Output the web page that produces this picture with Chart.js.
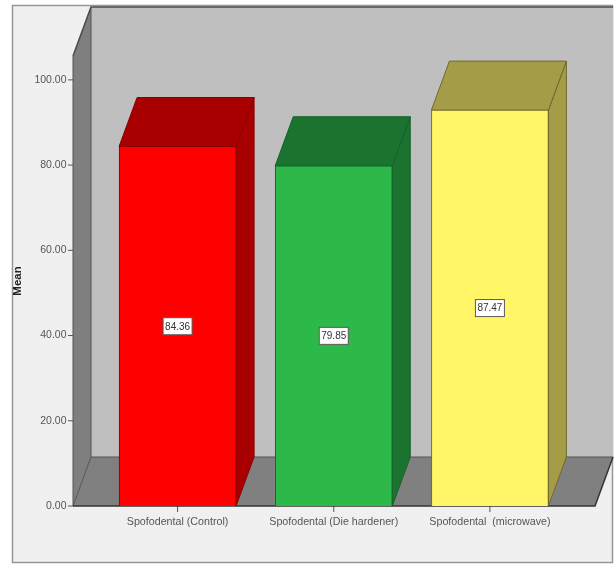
<!DOCTYPE html>
<html>
<head>
<meta charset="utf-8">
<style>
  html, body { margin: 0; padding: 0; background: #fff; }
  canvas { display: block; }
</style>
<script src="https://cdn.jsdelivr.net/npm/chart.js@4"></script>
</head>
<body>
<canvas id="chart" width="614" height="565"></canvas>
<script>
const categories = ["Spofodental (Control)", "Spofodental (Die hardener)", "Spofodental  (microwave)"];
const means = [84.36, 79.85, 92.9];
const printedLabels = ["84.36", "79.85", "87.47"];
const frontColors = ["#ff0000", "#2db84a", "#fff566"];
const shadeColors = ["#a80000", "#1a7430", "#a59c48"];
const edgeColors = ["#8a0000", "#14602a", "#6f6a30"];

// depth of the fake 3d box
const depthX = 18;
const depthY = -49;

function poly(ctx, pts, fill, stroke) {
  ctx.beginPath();
  pts.forEach((p, i) => (i ? ctx.lineTo(p[0], p[1]) : ctx.moveTo(p[0], p[1])));
  ctx.closePath();
  ctx.fillStyle = fill;
  ctx.fill();
  if (stroke) {
    ctx.strokeStyle = stroke;
    ctx.lineWidth = 1;
    ctx.stroke();
  }
}

const boxPlugin = {
  id: "box3d",
  // runs before the scales paint, otherwise the panel hides the tick labels
  beforeDraw(chart) {
    const ctx = chart.ctx;
    const y = chart.scales.y;
    const x = chart.scales.x;
    const bottom = y.getPixelForValue(0);
    const top = chart.chartArea.top;
    const left = 73;
    const right = 595;

    ctx.save();
    // panel
    ctx.fillStyle = "#f0f0f0";
    ctx.fillRect(12.5, 5.5, 600, 557);
    ctx.strokeStyle = "#969696";
    ctx.lineWidth = 1.5;
    ctx.strokeRect(12.5, 5.5, 600, 557);

    // back wall, side wall, floor
    poly(ctx, [[left + depthX, top + depthY], [613, top + depthY], [613, bottom + depthY], [left + depthX, bottom + depthY]], "#bfbfbf");
    poly(ctx, [[left, top], [left + depthX, top + depthY], [left + depthX, bottom + depthY], [left, bottom]], "#7f7f7f");
    poly(ctx, [[left, bottom], [left + depthX, bottom + depthY], [613, bottom + depthY], [right, bottom]], "#808080");

    ctx.strokeStyle = "#4a4a4a";
    ctx.lineWidth = 1.5;
    ctx.beginPath();
    ctx.moveTo(left, top);
    ctx.lineTo(left + depthX, top + depthY);
    ctx.lineTo(613, top + depthY);
    ctx.stroke();
    ctx.lineWidth = 1;
    ctx.strokeStyle = "#555";
    ctx.beginPath();
    ctx.moveTo(left, top);
    ctx.lineTo(left, bottom);
    ctx.moveTo(left + depthX, top + depthY);
    ctx.lineTo(left + depthX, bottom + depthY);
    ctx.lineTo(613, bottom + depthY);
    ctx.moveTo(left + depthX, bottom + depthY);
    ctx.lineTo(left, bottom);
    ctx.stroke();

    // tick marks sit on the front of the side wall, not on the chart area edge
    ctx.strokeStyle = "#555";
    ctx.beginPath();
    y.ticks.forEach((t) => {
      const py = y.getPixelForValue(t.value);
      ctx.moveTo(left - 5, py);
      ctx.lineTo(left, py);
    });
    categories.forEach((c, i) => {
      const px = x.getPixelForValue(i);
      ctx.moveTo(px, bottom);
      ctx.lineTo(px, bottom + 6);
    });
    ctx.stroke();

    // bar tops and right sides
    chart.getDatasetMeta(0).data.forEach((bar, i) => {
      const l = bar.x - bar.width / 2;
      const r = bar.x + bar.width / 2;
      poly(ctx, [[r, bar.base], [r + depthX, bar.base + depthY], [r + depthX, bar.y + depthY], [r, bar.y]], shadeColors[i], edgeColors[i]);
      poly(ctx, [[l, bar.y], [l + depthX, bar.y + depthY], [r + depthX, bar.y + depthY], [r, bar.y]], shadeColors[i], edgeColors[i]);
    });

    // front line of the floor
    ctx.strokeStyle = "#333";
    ctx.lineWidth = 1.5;
    ctx.beginPath();
    ctx.moveTo(left, bottom);
    ctx.lineTo(right, bottom);
    ctx.lineTo(613, bottom + depthY);
    ctx.stroke();
    ctx.restore();
  },
  afterDatasetsDraw(chart) {
    const ctx = chart.ctx;
    ctx.save();
    ctx.font = "10px 'Liberation Sans'";
    ctx.textAlign = "center";
    ctx.textBaseline = "middle";
    chart.getDatasetMeta(0).data.forEach((bar, i) => {
      const cy = (bar.y + bar.base) / 2;
      ctx.fillStyle = "#fff";
      ctx.fillRect(bar.x - 14.5, cy - 8.5, 29, 17);
      ctx.strokeStyle = "#5a5a5a";
      ctx.lineWidth = 1;
      ctx.strokeRect(bar.x - 14.5, cy - 8.5, 29, 17);
      ctx.fillStyle = "#333";
      ctx.fillText(printedLabels[i], bar.x, cy + 0.5);
    });
    ctx.restore();
  },
};

new Chart(document.getElementById("chart"), {
  type: "bar",
  data: {
    labels: categories,
    datasets: [
      {
        data: means,
        backgroundColor: frontColors,
        borderColor: edgeColors,
        borderWidth: 1,
        barThickness: 117,
      },
    ],
  },
  options: {
    responsive: false,
    animation: false,
    devicePixelRatio: 1,
    layout: { padding: { top: 56, right: 46, left: 0, bottom: 0 } },
    plugins: { legend: { display: false }, tooltip: { enabled: false } },
    scales: {
      x: {
        offset: true,
        grid: { display: false, drawTicks: false },
        border: { display: false },
        ticks: {
          padding: 10,
          maxRotation: 0,
          autoSkip: false,
          color: "#555",
          font: { family: "'Liberation Sans'", size: 10.7 },
        },
        afterFit(scale) {
          scale.height = 59;
        },
      },
      y: {
        min: 0,
        max: 105.6,
        grid: { display: false, drawTicks: false },
        border: { display: false },
        title: {
          display: true,
          text: "Mean",
          color: "#222",
          padding: { top: 11, bottom: 0 },
          font: { family: "'Liberation Sans'", size: 11.5, weight: "bold" },
        },
        ticks: {
          stepSize: 20,
          includeBounds: false,
          padding: 33,
          color: "#555",
          font: { family: "'Liberation Sans'", size: 10.5 },
          callback: (v) => v.toFixed(2),
        },
        afterFit(scale) {
          scale.width = 99.5;
        },
      },
    },
  },
  plugins: [boxPlugin],
});
</script>
</body>
</html>
